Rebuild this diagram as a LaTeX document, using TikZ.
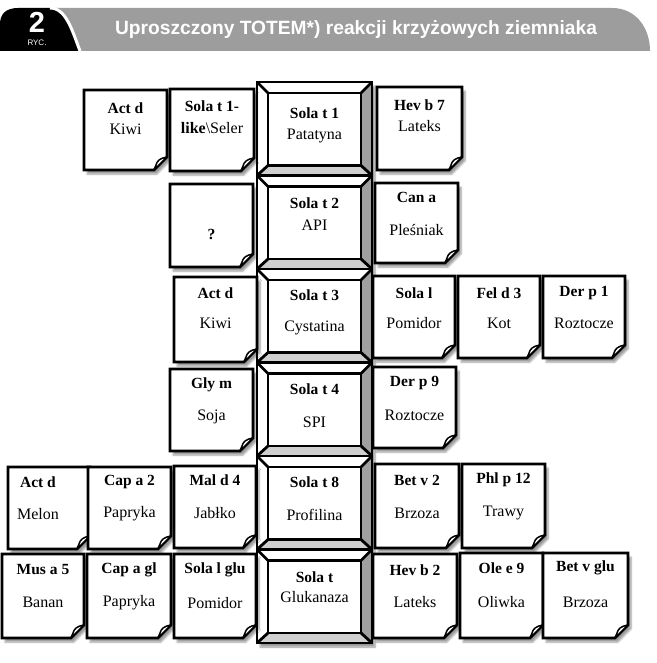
\documentclass[tikz,border=0pt]{standalone}
\usepackage{fontspec}
\setmainfont{Liberation Serif}
\newfontfamily\hdrfont{Liberation Sans}
\usetikzlibrary{shadows.blur,positioning}
\definecolor{hdrgray}{HTML}{9D9D9D}
\definecolor{bevdark}{HTML}{A0A0A0}
\definecolor{bevlight}{HTML}{CFCFCF}

\begin{document}
\begin{tikzpicture}[x=1pt, y=-1pt,
  card/.style={draw=black, line width=2.8pt, fill=white, line join=miter,
    blur shadow={shadow xshift=3pt, shadow yshift=-4pt, shadow blur steps=6, shadow opacity=40}},
  curl/.style={draw=black, line width=1.5pt, fill=white, line join=round},
  bevbox/.style={draw=black, line width=2.8pt},
  head/.style={font=\bfseries\fontsize{15.5}{16}\selectfont, inner sep=0pt},
  sub/.style={font=\fontsize{16}{17}\selectfont, inner sep=0pt}
]
\useasboundingbox (0,0) rectangle (656,663);
% ── Header ───────────────────────────────────────
\fill[hdrgray] (50,8) -- (612,8) .. controls (636,8) and (650,28) .. (650,51) -- (50,51) -- cycle;
\fill[black] (0,51) -- (0,24) .. controls (0,14) and (6,8) .. (18,8) -- (50,8)
  .. controls (66,8) and (72,30) .. (80,51) -- cycle;
\draw[white, line width=3pt] (50,8) .. controls (66,8) and (72,30) .. (80,51);
\node[font=\hdrfont\bfseries\fontsize{29}{29}\selectfont, white] (fignum) at (37,22) {2};
\node[font=\hdrfont\fontsize{8}{8}\selectfont, white] (ryc) at (37,43) {RYC.};
\node[font=\hdrfont\bfseries\fontsize{19.2}{21}\selectfont, white] (title) at (356,30)
  {Uproszczony TOTEM*) reakcji krzyżowych ziemniaka};
% ── Central column (Sola t) ──────────────────────
\fill[white, blur shadow={shadow xshift=3pt, shadow yshift=-4pt, shadow blur steps=6, shadow opacity=40}]
  (257,82) rectangle (372,643);
\foreach \i/\hy/\sy/\hd/\sb in {0/31/54/{Sola t 1}/{Patatyna},
    1/27.5/49.5/{Sola t 2}/{API}, 2/26/59/{Sola t 3}/{Cystatina},
    3/26.5/59.5/{Sola t 4}/{SPI}, 4/26/59/{Sola t 8}/{Profilina},
    5/27.5/47.5/{Sola t}/{Glukanaza}} {
  \pgfmathsetmacro\tp{82+93.5*\i}
  \pgfmathsetmacro\bt{\tp+93.5}
  \fill[bevdark] (372,\tp) -- (372,\bt) -- (361,\bt-10) -- (361,\tp+11) -- cycle;
  \fill[bevlight] (257,\bt) -- (372,\bt) -- (361,\bt-10) -- (268,\bt-10) -- cycle;
  \draw[bevbox] (257,\tp) rectangle (372,\bt);
  \draw[bevbox] (268,\tp+11) rectangle (361,\bt-10);
  \draw[bevbox] (257,\tp) -- (268,\tp+11) (372,\tp) -- (361,\tp+11)
    (257,\bt) -- (268,\bt-10) (372,\bt) -- (361,\bt-10);
  \node[head] (solat\i) at (314.5,\tp+\hy) {\hd};
  \node[sub] (solat\i-src) at (314.5,\tp+\sy) {\sb};
}
% ── Cross-reacting allergens (notes) ─────────────
\foreach \nm/\l/\t/\r/\b/\dx/\hy/\sy/\hd/\sb in {
    actkiwi/84/90/167/170/0/108/129/{Act d}/{Kiwi},
    solalike/170/89/254/171/0/106/128/{Sola t 1-}/{\textbf{like}\textbackslash Seler},
    hevbseven/377/87/462/170/0/105/126/{Hev b 7}/{Lateks},
    unknown/170/184/253/267/0/234/234/{?}/{},
    cana/375/183/458/263/0/197/230/{Can a}/{Pleśniak},
    actkiwib/174/277/257/362/0/293/323/{Act d}/{Kiwi},
    solal/373/276/455/358/0/293/323/{Sola l}/{Pomidor},
    feldthree/458/276/540/358/0/293/323/{Fel d 3}/{Kot},
    derpone/543/276/625/358/0/293/323/{Der p 1}/{Roztocze},
    glym/170/369/253/451/0/385/417/{Gly m}/{Soja},
    derpnine/373/367/456/448/0/383/415/{Der p 9}/{Roztocze},
    actdmelon/8/467/90/549/-11/482/514/{Act d}/{Melon},
    capatwo/88/467/171/549/0/482/514/{Cap a 2}/{Papryka},
    maldfour/174/466/256/548/0/480/513/{Mal d 4}/{Jabłko},
    musafive/2/554/84/638/0/570/602/{Mus a 5}/{Banan},
    capagl/87/554/171/638/0/570/603/{Cap a gl}/{Papryka},
    solalglu/174/554/256/638/0/570/603/{Sola l glu}/{Pomidor},
    betvtwo/375/464/459/548/0/480/513/{Bet v 2}/{Brzoza},
    phlp/462/464/545/548/0/480/513/{Phl p 12}/{Trawy},
    hevbtwo/373/554/457/638/0/570/602/{Hev b 2}/{Lateks},
    oleenine/460/553/543/638/0/568/602/{Ole e 9}/{Oliwka},
    betvglu/543/553/628/638/0/568/602/{Bet v glu}/{Brzoza}} {
  \draw[card] (\l,\t) -- (\r,\t) -- (\r,\b-13) -- (\r-13,\b) -- (\l,\b) -- cycle;
  \filldraw[curl] (\r,\b-13) .. controls (\r-7,\b-12) and (\r-10,\b-9) .. (\r-11,\b-5)
    .. controls (\r-12,\b-2) .. (\r-13,\b) -- cycle;
  \fill (\r,\b-13) .. controls (\r-4,\b-10) .. (\r-6,\b-7) -- (\r-13,\b) -- cycle;
  \node[head] (\nm) at ({(\l+\r)/2+\dx},\hy) {\hd};
  \node[sub] (\nm-src) at ({(\l+\r)/2+\dx},\sy) {\sb};
}
\end{tikzpicture}
\end{document}
